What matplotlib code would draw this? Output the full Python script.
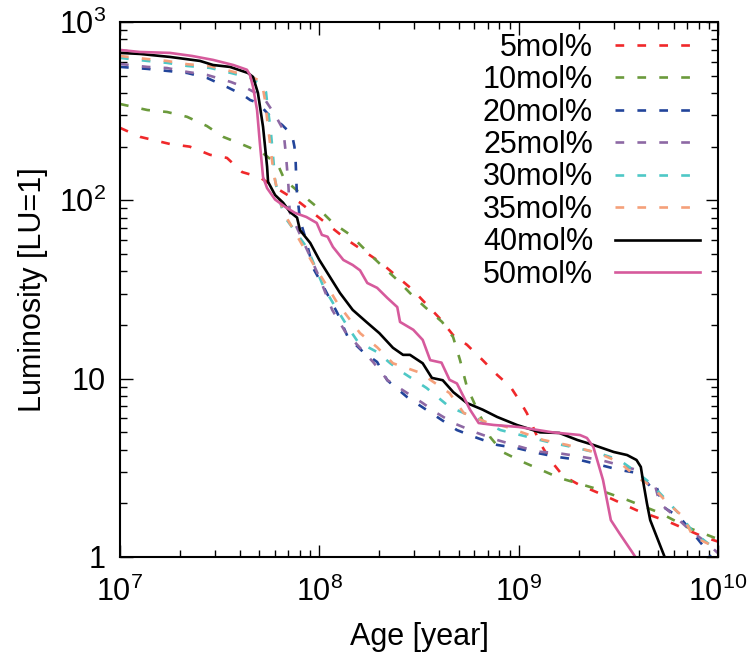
import matplotlib
matplotlib.use('Agg')
import matplotlib.pyplot as plt
from matplotlib.ticker import LogLocator, NullFormatter

plt.rcParams['font.family'] = ['Liberation Sans', 'DejaVu Sans']
plt.rcParams['mathtext.fontset'] = 'custom'
plt.rcParams['mathtext.rm'] = 'Liberation Sans'
plt.rcParams['mathtext.it'] = 'Liberation Sans:italic'

# --- data (age in years, luminosity in LU) ---
age_05 = [1e7, 1.26e7, 1.78e7, 2.24e7, 2.83e7, 3.44e7, 4.1e7, 5e7, 6.1e7, 8e7, 9.3e7, 1.38e8,
          2.02e8, 2.95e8, 4.0e8, 4.7e8, 5.5e8, 6.6e8, 7.8e8, 9.1e8, 1.02e9, 1.1e9, 1.18e9,
          1.28e9, 1.44e9, 1.67e9, 2.0e9, 2.65e9, 3.9e9, 5.7e9, 8.4e9, 1e10]
lum_05 = [255, 227, 207, 200, 180, 173, 144, 135, 117, 97, 85, 60,
          45, 31.4, 21.9, 17.5, 15.5, 12.7, 10.5, 9.0, 7.4, 6.4, 5.36,
          4.36, 3.5, 2.85, 2.55, 2.23, 1.83, 1.57, 1.30, 1.22]

age_10 = [1e7, 1.37e7, 1.72e7, 2.17e7, 2.73e7, 3.29e7, 4.14e7, 5.2e7, 6.2e7, 6.7e7, 8e7, 9.7e7,
          1.17e8, 1.43e8, 1.74e8, 2.09e8, 2.46e8, 2.85e8, 3.39e8, 4.13e8, 4.69e8, 5.08e8, 5.5e8,
          6.2e8, 7.2e8, 8.3e8, 1.05e9, 1.61e9, 2.37e9, 3.5e9, 5.1e9, 7e9, 1e10]
lum_10 = [347, 321, 313, 294, 261, 227, 205, 184, 158, 130, 110, 92,
          74.7, 64, 51.4, 42.3, 35.8, 30.2, 25.2, 20.8, 17.1, 12.7, 9.0,
          6.7, 4.7, 3.88, 3.41, 2.77, 2.44, 2.09, 1.77, 1.47, 1.26]

age_20 = [1e7, 1.37e7, 1.72e7, 2.17e7, 2.73e7, 3.44e7, 4.14e7, 4.5e7, 4.92e7, 5.6e7, 6.5e7, 7.3e7,
          7.5e7, 7.6e7, 7.7e7, 8e7, 8.5e7, 9.3e7, 1.05e8, 1.23e8, 1.39e8, 1.66e8, 1.95e8,
          2.19e8, 2.75e8, 3.9e8, 4.9e8, 6.2e8, 7.8e8, 9.8e8, 1.24e9, 1.56e9, 2.03e9, 2.57e9,
          3.2e9, 3.93e9, 4.3e9, 4.6e9, 4.85e9, 5.3e9, 6.46e9, 7.5e9, 8.9e9, 9.2e9]
lum_20 = [560, 546, 532, 518, 486, 432, 390, 365, 352, 300, 265, 233,
          200, 169, 114, 77.6, 62, 41.8, 32.7, 23.4, 17.1, 14.1, 12.4,
          9.8, 7.9, 6.1, 5.15, 4.65, 4.25, 4.08, 3.83, 3.64, 3.5, 3.28,
          3.08, 2.96, 2.7, 2.47, 2.6, 1.91, 1.66, 1.36, 1.07, 1.0]

age_25 = [1e7, 1.37e7, 1.72e7, 2.17e7, 2.73e7, 3.6e7, 4.3e7, 4.8e7, 5.3e7, 6.0e7, 6.6e7, 6.8e7,
          7.0e7, 7.1e7, 8.8e7, 1e8, 1.16e8, 1.35e8, 1.86e8, 2.2e8, 2.63e8, 3.3e8, 3.9e8,
          4.7e8, 6.2e8, 7.8e8, 9.8e8, 1.24e9, 1.56e9, 1.97e9, 2.57e9, 3.2e9, 3.9e9, 4.57e9,
          4.8e9, 5.1e9, 6.2e9, 7.2e9, 8.8e9, 1e10]
lum_25 = [582, 560, 552, 525, 505, 461, 427, 400, 371, 301, 248, 180,
          120, 86, 51, 37, 24.3, 18.3, 12.4, 9.8, 8.6, 7.3, 6.4,
          5.64, 4.96, 4.53, 4.2, 3.9, 3.83, 3.68, 3.5, 3.28, 3.08, 2.47,
          2.6, 2.0, 1.66, 1.42, 1.2, 1.05]

age_30 = [1e7, 1.37e7, 1.72e7, 2.17e7, 2.83e7, 3.6e7, 4.5e7, 5.17e7, 5.4e7, 5.5e7, 5.7e7, 5.85e7,
          6.0e7, 6.2e7, 6.7e7, 8.7e7, 1.05e8, 1.17e8, 1.39e8, 1.56e8, 1.95e8, 2.27e8, 2.63e8,
          3.45e8, 4.5e8, 6.4e8, 8.1e8, 1.02e9, 1.4e9, 1.97e9, 2.5e9, 3.2e9, 3.9e9, 4.57e9,
          5.5e9, 6.46e9, 7.5e9, 9.4e9, 1e10]
lum_30 = [629, 605, 590, 567, 553, 518, 486, 444, 405, 334, 248, 180,
          130, 107, 80.7, 54, 32.7, 26.6, 19.5, 16.1, 14.1, 12.2, 10.8,
          8.87, 6.94, 5.87, 5.15, 4.83, 4.42, 4.08, 3.83, 3.5, 2.99, 2.6,
          2.09, 1.72, 1.38, 1.14, 1.09]

age_35 = [1e7, 1.37e7, 1.72e7, 2.17e7, 2.83e7, 3.6e7, 4.5e7, 5.0e7, 5.2e7, 5.35e7, 5.5e7, 5.7e7,
          5.9e7, 6.2e7, 6.6e7, 8.3e7, 9.5e7, 1.1e8, 1.23e8, 1.6e8, 1.95e8, 2.34e8, 3.2e8,
          4.5e8, 5.3e8, 6.9e8, 8.7e8, 1.33e9, 1.75e9, 2.5e9, 3.2e9, 3.9e9, 4.7e9, 5.6e9,
          6.7e9, 7.5e9, 1e10]
lum_35 = [645, 620, 605, 580, 565, 530, 495, 470, 430, 360, 270, 195,
          140, 110, 86, 55, 42.4, 32.7, 26.6, 18, 15, 12.2, 10.8,
          8.3, 6.42, 5.7, 5.36, 4.53, 4.25, 3.83, 3.4, 2.81, 2.47, 2.0,
          1.68, 1.30, 1.12]

age_40 = [1e7, 1.26e7, 1.78e7, 2.52e7, 2.93e7, 3.56e7, 4.38e7, 4.65e7, 4.92e7, 5.22e7, 5.47e7,
          5.53e7, 6.0e7, 6.58e7, 7.13e7, 7.73e7, 8e7, 9e7, 1e8, 1.13e8, 1.27e8, 1.47e8, 1.73e8,
          2.0e8, 2.34e8, 2.63e8, 2.85e8, 3.3e8, 3.67e8, 4.16e8, 4.7e8, 5.5e8, 6.6e8, 7.8e8,
          9.8e8, 1.28e9, 1.6e9, 1.97e9, 2.37e9, 3e9, 3.5e9, 3.9e9, 4.1e9, 4.2e9, 4.4e9,
          4.57e9, 5.4e9]
lum_40 = [671, 662, 637, 605, 574, 560, 518, 492, 400, 258, 154,
          127, 107, 97, 86, 80, 68, 57.7, 46.3, 37.2, 30.2, 24.3, 20.7,
          18, 14.9, 13.6, 13.6, 12.2, 10.1, 9.8, 8.4, 7.3, 6.7, 6.1,
          5.5, 5.0, 4.96, 4.53, 4.25, 3.88, 3.73, 3.5, 3.2, 2.7, 2.0,
          1.61, 1.0]

age_50 = [1e7, 1.26e7, 1.78e7, 2.3e7, 2.93e7, 3.7e7, 4.33e7, 4.49e7, 4.65e7, 4.87e7, 5.03e7,
          5.22e7, 5.47e7, 6.0e7, 6.73e7, 7.55e7, 8.6e7, 9.7e7, 1.03e8, 1.1e8, 1.17e8, 1.32e8,
          1.47e8, 1.6e8, 1.74e8, 1.95e8, 2.19e8, 2.46e8, 2.54e8, 2.96e8, 3.3e8, 3.6e8, 4.1e8,
          4.5e8, 4.9e8, 5.3e8, 5.7e8, 6.3e8, 7.5e8, 1.0e9, 1.48e9, 2.03e9, 2.2e9, 2.37e9,
          2.65e9, 2.9e9, 3.2e9, 3.7e9, 3.85e9]
lum_50 = [697, 679, 671, 645, 613, 574, 540, 505, 432, 321, 210,
          135, 117, 101, 92, 85, 80.7, 74.7, 64, 62.5, 54.8, 46.3,
          43.4, 40.5, 34.4, 32.3, 28.4, 25.2, 20.8, 18.8, 16.5, 12.7, 12.3,
          9.85, 9.4, 7.9, 6.7, 5.64, 5.5, 5.36, 5.0, 4.83, 4.65, 4.14,
          2.7, 1.61, 1.36, 1.07, 1.0]

labels = ['5mol%', '10mol%', '20mol%', '25mol%', '30mol%', '35mol%', '40mol%', '50mol%']
colors = ['#f0282a', '#6b9a3c', '#22449a', '#8d68a4', '#4ec8c6', '#f5a07a', '#000000', '#d65a9c']
styles = ['--'] * 6 + ['-'] * 2
series = [(age_05, lum_05), (age_10, lum_10), (age_20, lum_20), (age_25, lum_25),
          (age_30, lum_30), (age_35, lum_35), (age_40, lum_40), (age_50, lum_50)]

fig = plt.figure(figsize=(7.55, 6.61), dpi=100)
ax = fig.add_axes([120 / 755, 1 - 557 / 661, 598 / 755, 535 / 661])

for (x, y), lab, c, ls in zip(series, labels, colors, styles):
    line, = ax.plot(x, y, ls, color=c, lw=1.9, label=lab)
    if ls == '--':
        line.set_dashes((3.3, 5.0))

ax.set_xscale('log')
ax.set_yscale('log')
ax.set_xlim(1e7, 1e10)
ax.set_ylim(1, 1e3)

ax.set_xticks([1e7, 1e8, 1e9, 1e10])
ax.set_xticklabels([r'$\mathregular{10^{7}}$', r'$\mathregular{10^{8}}$',
                    r'$\mathregular{10^{9}}$', r'$\mathregular{10^{10}}$'])
ax.set_yticks([1, 10, 100, 1000])
ax.set_yticklabels(['1', '10', r'$\mathregular{10^{2}}$', r'$\mathregular{10^{3}}$'])
ax.xaxis.set_minor_locator(LogLocator(base=10, subs=range(2, 10), numticks=20))
ax.yaxis.set_minor_locator(LogLocator(base=10, subs=range(2, 10), numticks=20))
ax.xaxis.set_minor_formatter(NullFormatter())
ax.yaxis.set_minor_formatter(NullFormatter())

ax.tick_params(which='both', direction='in', top=True, right=True, labelsize=22, width=1)
ax.tick_params(which='major', length=9)
ax.tick_params(which='minor', length=5)
ax.tick_params(axis='x', pad=14)
ax.tick_params(axis='y', pad=10)
for sp in ax.spines.values():
    sp.set_linewidth(1.5)

ax.set_xlabel('Age [year]', fontsize=22, labelpad=10)
ax.set_ylabel('Luminosity [LU=1]', fontsize=22, labelpad=8)

ax.legend(loc='upper right', bbox_to_anchor=(0.97, 0.98), frameon=False, fontsize=22,
          markerfirst=False, handlelength=2.8, handletextpad=0.7, labelspacing=0.08,
          borderpad=0, borderaxespad=0)

fig.savefig('out.png', dpi=100)
